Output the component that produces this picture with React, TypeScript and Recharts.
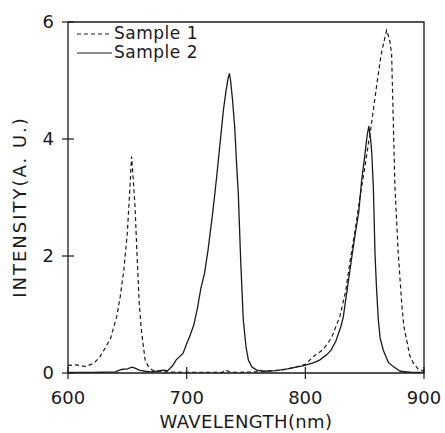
import { LineChart, Line, XAxis, YAxis, ReferenceArea, Legend } from 'recharts';

// Sample 1 (dashed)
const sample1Wavelength = [
  600, 607, 615, 622, 627, 632, 636, 641, 644, 647, 650, 652, 653.6, 655, 656.5, 658, 660, 662, 665, 668, 671,
  680, 700, 720, 730, 733, 735, 737, 740, 760, 780, 790, 800, 808, 815, 822, 829, 834, 838, 842, 846, 850,
  853, 855, 857, 860, 864, 868.5, 871, 872.7, 874.1, 875.5, 878.3, 881.2, 883, 885.4, 888, 891, 895, 900,
];
const sample1Intensity = [
  0.13, 0.14, 0.11, 0.17, 0.28, 0.45, 0.6, 0.96, 1.3, 1.75, 2.4, 3.1, 3.7, 3.3, 2.84, 2.1, 1.2, 0.7, 0.22, 0.1, 0.05,
  0.02, 0.01, 0.01, 0.01, 0.05, 0.03, 0.01, 0.01, 0.02, 0.05, 0.09, 0.15, 0.3, 0.4, 0.6, 0.96, 1.4, 1.95, 2.45, 3.0, 3.5,
  3.9, 4.15, 4.45, 4.9, 5.46, 5.86, 5.7, 5.46, 4.32, 3.18, 2.05, 1.19, 0.8, 0.56, 0.3, 0.17, 0.07, 0.03,
];

// Sample 2 (solid)
const sample2Wavelength = [
  600, 620, 640, 645, 650, 654, 657, 660, 665, 670, 675, 680, 684, 688, 691, 694, 697, 700, 703, 706, 709, 712, 715,
  718, 722, 725, 728, 731, 733, 735, 736, 737, 738.5, 740.5, 742, 743.5, 745.5, 747.7, 750, 752, 755, 759, 765, 775,
  785, 792, 798, 806, 812, 818, 822, 826, 830, 832, 836, 840, 843, 845, 847.5, 850, 852, 853.5, 855, 856, 857.3,
  858.7, 860, 861.5, 863, 865.7, 870, 874, 880, 890, 900,
];
const sample2Intensity = [
  0.01, 0.01, 0.02, 0.06, 0.07, 0.1, 0.08, 0.05, 0.03, 0.02, 0.03, 0.05, 0.04, 0.12, 0.22, 0.28, 0.34, 0.5, 0.65, 0.82,
  1.1, 1.45, 1.7, 2.1, 2.75, 3.3, 3.9, 4.5, 4.8, 5.05, 5.12, 5.0, 4.7, 4.2, 3.6, 3.07, 1.93, 0.91, 0.45, 0.22, 0.1,
  0.05, 0.03, 0.04, 0.07, 0.1, 0.12, 0.17, 0.22, 0.31, 0.4, 0.56, 0.8, 0.96, 1.53, 2.1, 2.5, 2.75, 3.3, 3.7, 4.05,
  4.22, 4.0, 3.76, 3.18, 2.05, 1.45, 0.91, 0.6, 0.39, 0.18, 0.11, 0.03, 0.01, 0.01,
];

const xTicks = [600, 700, 800, 900];
const yTicks = [0, 2, 4, 6];
const seriesNames = ['Sample 1', 'Sample 2'];

const s1 = sample1Wavelength.map((wl, i) => ({ wl, v: sample1Intensity[i] }));
const s2 = sample2Wavelength.map((wl, i) => ({ wl, v: sample2Intensity[i] }));

const FONT = '"DejaVu Sans", sans-serif';
const INK = '#1a1a1a';

const XTick = (props: any) => {
  const { x, y, payload } = props;
  return (
    <g>
      <line x1={x} x2={x} y1={y - 6} y2={y + 6} stroke={INK} strokeWidth={1.2} />
      <text x={x} y={y + 31} textAnchor="middle" fontFamily={FONT} fontSize={18} fill={INK}>
        {payload.value}
      </text>
    </g>
  );
};

const YTick = (props: any) => {
  const { x, y, payload } = props;
  return (
    <g>
      <line x1={x - 6} x2={x + 6} y1={y} y2={y} stroke={INK} strokeWidth={1.2} />
      <text x={x - 14} y={y + 6} textAnchor="end" fontFamily={FONT} fontSize={18} fill={INK}>
        {payload.value}
      </text>
    </g>
  );
};

const LegendBox = () => (
  <div style={{ fontFamily: FONT, fontSize: 17, color: INK, lineHeight: '19px', letterSpacing: 0.5 }}>
    {seriesNames.map((name, i) => (
      <div key={name} style={{ display: 'flex', alignItems: 'center' }}>
        <svg width={36} height={10}>
          <line x1={0} x2={35} y1={5} y2={5} stroke={INK} strokeWidth={1.2} strokeDasharray={i === 0 ? '4 3' : undefined} />
        </svg>
        <span style={{ marginLeft: 1 }}>{name}</span>
      </div>
    ))}
  </div>
);

export default function App() {
  return (
    <div style={{ position: 'absolute', left: 0, top: 0, width: 445, height: 433, background: '#fff' }}>
      <LineChart width={445} height={433} margin={{ top: 22, right: 21, bottom: 0, left: 0 }}>
        <XAxis
          type="number"
          dataKey="wl"
          domain={[600, 900]}
          ticks={xTicks}
          axisLine={false}
          tickLine={false}
          tickSize={0}
          tickMargin={0}
          height={60}
          tick={<XTick />}
          allowDataOverflow
          label={() => (
            <text x={246} y={428} textAnchor="middle" fontFamily={FONT} fontSize={18} fill={INK} letterSpacing={0.4}>
              WAVELENGTH(nm)
            </text>
          )}
        />
        <YAxis
          type="number"
          domain={[0, 6]}
          ticks={yTicks}
          axisLine={false}
          tickLine={false}
          tickSize={0}
          tickMargin={0}
          width={68}
          tick={<YTick />}
          allowDataOverflow
          label={() => (
            <text
              x={26}
              y={207}
              transform="rotate(-90 26 207)"
              textAnchor="middle"
              fontFamily={FONT}
              fontSize={18}
              fill={INK}
              letterSpacing={2}
            >
              INTENSITY(A. U.)
            </text>
          )}
        />
        <ReferenceArea x1={600} x2={900} y1={0} y2={6} fill="none" stroke={INK} strokeWidth={1.3} ifOverflow="visible" />
        <Legend
          layout="horizontal"
          verticalAlign="middle"
          align="center"
          content={<LegendBox />}
          wrapperStyle={{ left: 77, top: 24, width: 'auto' }}
        />
        <Line
          data={s1}
          dataKey="v"
          name={seriesNames[0]}
          type="linear"
          stroke={INK}
          strokeWidth={1.2}
          strokeDasharray="4 3"
          dot={false}
          isAnimationActive={false}
        />
        <Line
          data={s2}
          dataKey="v"
          name={seriesNames[1]}
          type="linear"
          stroke={INK}
          strokeWidth={1.3}
          dot={false}
          isAnimationActive={false}
        />
      </LineChart>
    </div>
  );
}
